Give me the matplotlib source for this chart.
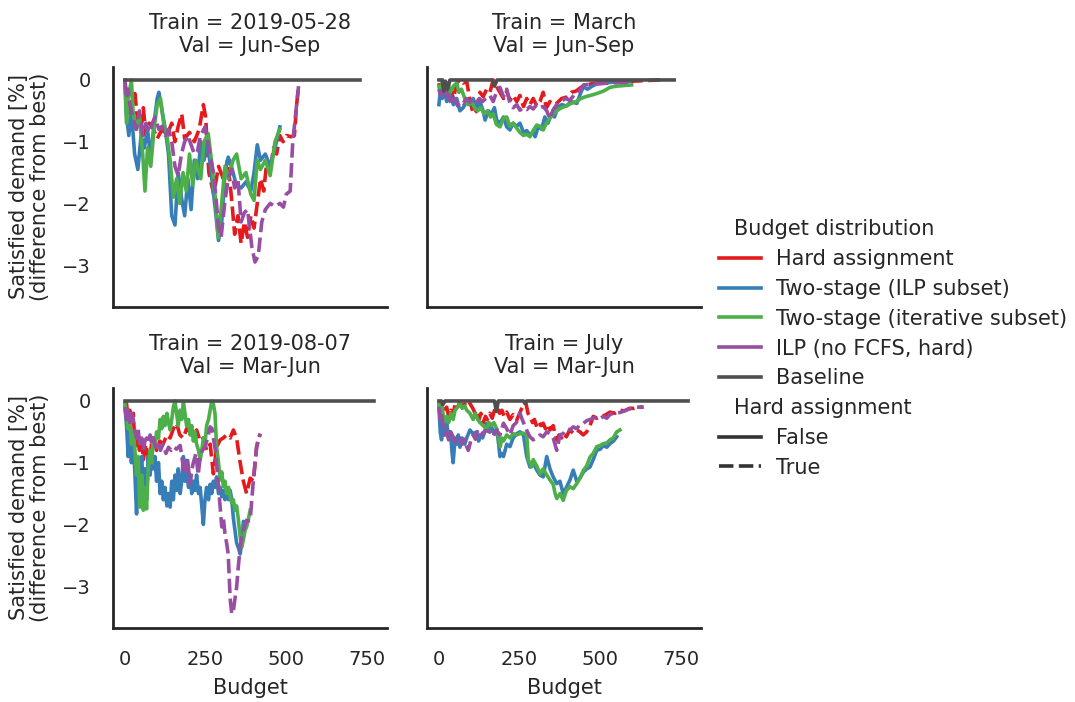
import matplotlib
matplotlib.use("Agg")
import matplotlib.pyplot as plt
from matplotlib.lines import Line2D
from matplotlib.offsetbox import VPacker

# legend / hue levels
methods = ["Hard assignment", "Two-stage (ILP subset)", "Two-stage (iterative subset)",
           "ILP (no FCFS, hard)", "Baseline"]
is_hard = [True, False, False, True, False]
colors = ["#e41a1c", "#377eb8", "#4daf4a", "#984ea3", "#4f4f4f"]

titles = ["Train = 2019-05-28\nVal = Jun-Sep", "Train = March\nVal = Jun-Sep",
          "Train = 2019-08-07\nVal = Mar-Jun", "Train = July\nVal = Mar-Jun"]

# ---- Train = 2019-05-28 / Val = Jun-Sep ----
tl_hard_b = [0, 5, 12, 20, 31, 40, 50, 57, 65, 75, 85, 100, 115, 130, 145, 155, 165, 176, 185, 200,
             215, 230, 243, 250, 260, 275, 290, 305, 318, 330, 340, 350, 360, 370, 380, 390, 400, 410,
             420, 430, 440, 450, 460, 470, 480, 490, 500, 515, 525, 532, 538]
tl_hard_v = [0, -0.4, -0.6, -0.35, -0.22, -0.7, -0.8, -0.45, -0.9, -0.7, -0.75, -0.95, -0.8, -0.9,
             -0.7, -1.0, -0.75, -0.55, -0.95, -0.85, -1.0, -0.8, -0.4, -0.6, -1.5, -1.85, -1.4, -1.6,
             -1.3, -1.9, -2.5, -2.2, -2.65, -2.3, -2.55, -2.2, -2.4, -2.0, -1.6, -1.8, -1.3, -1.5,
             -1.1, -1.2, -0.9, -1.0, -0.9, -0.92, -0.9, -0.4, -0.1]
tl_ilps_b = [0, 5, 12, 20, 30, 40, 50, 60, 70, 80, 90, 100, 105, 115, 125, 135, 145, 155, 165, 175,
             185, 195, 205, 215, 225, 235, 245, 255, 265, 280, 290, 300, 310, 320, 330, 345, 360,
             375, 390, 400, 410, 420, 435, 450, 465, 480]
tl_ilps_v = [0, -0.6, -0.9, -0.5, -1.2, -1.45, -0.9, -1.1, -0.8, -1.3, -0.7, -0.3, -0.2, -0.5, -0.8,
             -1.2, -2.2, -2.35, -1.5, -1.9, -2.2, -1.6, -2.1, -1.3, -1.6, -1.0, -1.3, -1.0, -1.4,
             -2.1, -2.6, -2.3, -1.5, -1.25, -1.4, -1.7, -1.75, -1.65, -1.8, -1.5, -1.05, -1.3, -1.2,
             -1.4, -1.1, -0.76]
tl_iter_b = [0, 5, 10, 20, 25, 35, 45, 55, 62, 70, 80, 90, 100, 110, 120, 130, 140, 150, 160, 170,
             180, 190, 200, 210, 220, 235, 245, 258, 268, 280, 289, 298, 310, 320, 335, 346, 360,
             375, 390, 400, 410, 420, 435, 450, 465, 480]
tl_iter_v = [-0.1, -0.7, -0.3, 0.0, -0.5, -0.8, -0.6, -1.2, -1.8, -1.1, -1.4, -0.8, -0.4, -0.3,
             -0.7, -0.9, -1.3, -1.9, -1.6, -2.0, -1.5, -1.8, -1.2, -1.7, -1.3, -1.6, -1.0, -0.87,
             -1.3, -1.9, -2.55, -2.1, -1.4, -1.6, -1.3, -1.2, -1.6, -1.5, -1.85, -1.95, -1.3, -1.45,
             -1.3, -1.55, -1.0, -0.8]
tl_ilp_b = [0, 5, 10, 15, 25, 35, 45, 55, 65, 75, 85, 93, 105, 115, 125, 135, 145, 155, 165, 175,
            185, 195, 205, 215, 225, 233, 248, 260, 274, 282, 290, 298, 310, 320, 330, 340, 350,
            360, 370, 380, 393, 403, 413, 424, 435, 450, 465, 480, 491, 500, 512, 520, 530, 538]
tl_ilp_v = [0.0, -0.3, -0.15, -0.4, -0.6, -0.8, -0.5, -0.9, -0.7, -0.85, -0.7, -0.6, -0.8, -0.75,
            -0.9, -0.8, -1.0, -1.4, -1.55, -1.2, -1.0, -0.9, -1.05, -1.2, -1.15, -0.92, -0.76, -1.1,
            -1.5, -1.9, -2.4, -2.55, -1.95, -1.6, -1.45, -1.75, -1.6, -2.3, -2.15, -2.1, -2.7,
            -2.95, -2.85, -2.3, -2.1, -2.0, -2.05, -2.0, -2.06, -1.85, -1.8, -1.0, -0.5, -0.1]
tl_base_b = [0, 729]
tl_base_v = [0, 0]

# ---- Train = March / Val = Jun-Sep ----
tr_hard_b = [0, 8, 15, 24, 35, 45, 55, 65, 75, 86, 95, 106, 117, 127, 137, 148, 158, 168, 178, 189,
             200, 210, 220, 230, 241, 251, 262, 272, 282, 292, 303, 313, 323, 333, 344, 354, 365,
             380, 395, 410, 425, 440, 455, 475, 500, 530, 560, 600, 640, 685]
tr_hard_v = [-0.05, -0.3, -0.1, -0.25, -0.15, -0.3, -0.05, 0.0, -0.05, -0.02, -0.3, -0.55, -0.5,
             -0.2, -0.27, -0.15, -0.2, 0.0, -0.1, -0.2, -0.3, -0.18, -0.33, -0.25, -0.35, -0.25,
             -0.43, -0.3, -0.4, -0.3, -0.42, -0.35, -0.2, -0.45, -0.35, -0.4, -0.38, -0.3, -0.28,
             -0.2, -0.18, -0.12, -0.08, -0.06, -0.04, -0.03, -0.02, -0.02, -0.01, 0.0]
tr_ilps_b = [0, 5, 10, 18, 24, 35, 45, 55, 65, 75, 86, 96, 106, 117, 127, 137, 143, 153, 163, 172,
             179, 189, 200, 210, 220, 230, 241, 251, 262, 272, 282, 292, 298, 308, 318, 328, 338,
             348, 358, 368, 380, 395, 410, 427, 440, 448, 460, 475, 490, 510, 530, 560, 592]
tr_ilps_v = [-0.4, -0.15, -0.3, -0.2, -0.35, -0.25, -0.4, -0.3, -0.5, -0.45, -0.35, -0.4, -0.3,
             -0.45, -0.35, -0.5, -0.65, -0.5, -0.55, -0.45, -0.65, -0.7, -0.6, -0.76, -0.81, -0.7,
             -0.75, -0.7, -0.85, -0.82, -0.89, -0.85, -0.92, -0.75, -0.8, -0.6, -0.7, -0.55, -0.6,
             -0.45, -0.4, -0.42, -0.35, -0.38, -0.2, -0.11, -0.15, -0.1, -0.06, -0.05, -0.04,
             -0.03, -0.02]
tr_iter_b = [0, 5, 12, 20, 28, 35, 45, 55, 62, 70, 80, 90, 100, 110, 120, 130, 140, 150, 160, 168,
             178, 189, 200, 210, 220, 230, 241, 251, 262, 272, 282, 292, 303, 313, 323, 333, 344,
             354, 365, 380, 395, 410, 425, 440, 455, 470, 489, 510, 530, 550, 575, 597]
tr_iter_v = [-0.1, -0.25, 0.0, -0.15, -0.05, -0.2, -0.1, -0.05, -0.2, -0.15, -0.3, -0.4, -0.35,
             -0.45, -0.5, -0.45, -0.55, -0.5, -0.6, -0.55, -0.72, -0.76, -0.62, -0.6, -0.75, -0.7,
             -0.78, -0.85, -0.9, -0.88, -0.92, -0.82, -0.73, -0.75, -0.81, -0.7, -0.62, -0.55,
             -0.5, -0.45, -0.42, -0.38, -0.35, -0.3, -0.27, -0.25, -0.22, -0.18, -0.12, -0.1,
             -0.09, -0.08]
tr_ilp_b = [0, 5, 12, 20, 28, 38, 48, 58, 65, 75, 85, 95, 105, 115, 125, 135, 145, 158, 168, 178,
            189, 200, 210, 220, 230, 241, 251, 261, 272, 282, 292, 303, 313, 323, 334, 344, 354,
            365, 378, 392, 405, 418, 430, 440, 448, 470, 500, 530, 560, 580, 602]
tr_ilp_v = [-0.15, -0.25, -0.18, -0.3, -0.22, -0.4, -0.3, -0.42, -0.35, -0.38, -0.3, -0.36, -0.33,
            -0.38, -0.3, -0.35, -0.3, -0.25, -0.35, -0.2, -0.12, -0.27, -0.15, -0.38, -0.45, -0.4,
            -0.49, -0.45, -0.48, -0.43, -0.47, -0.4, -0.45, -0.43, -0.5, -0.63, -0.48, -0.4,
            -0.35, -0.3, -0.33, -0.25, -0.22, -0.15, -0.08, -0.07, -0.06, -0.05, -0.04, -0.04,
            -0.02]
tr_base_b = [0, 10, 15, 20, 27, 34, 165, 172, 180, 729]
tr_base_v = [0, 0, -0.18, -0.02, -0.15, 0, 0, -0.1, 0, 0]

# ---- Train = 2019-08-07 / Val = Mar-Jun ----
bl_hard_b = [0, 5, 10, 15, 20, 26, 31, 38, 45, 52, 57, 65, 75, 85, 98, 108, 118, 130, 140, 150,
             160, 170, 181, 191, 202, 212, 222, 233, 243, 253, 264, 274, 284, 295, 305, 315, 326,
             336, 346, 357, 367, 377, 388, 398, 408, 419]
bl_hard_v = [0, -0.05, -0.3, -0.15, -0.35, -0.2, -0.74, -0.55, -0.8, -0.65, -0.95, -0.7, -1.0,
             -0.6, -0.8, -0.65, -0.7, -0.55, -0.6, -0.45, -0.36, -0.55, -0.6, -0.45, -0.5, -0.6,
             -0.47, -0.65, -0.6, -0.8, -0.7, -1.18, -0.75, -0.63, -0.6, -0.55, -0.6, -0.47, -0.6,
             -1.0, -1.3, -1.5, -1.25, -1.3, -0.75, -0.53]
bl_ilps_b = [0, 5, 10, 15, 20, 26, 31, 36, 41, 46, 52, 57, 62, 67, 72, 78, 83, 88, 93, 98, 104,
             109, 114, 119, 124, 130, 135, 140, 145, 150, 155, 160, 165, 171, 176, 181, 186, 191,
             197, 202, 207, 212, 217, 222, 228, 233, 238, 243, 248, 253, 259, 264, 269, 274, 279,
             284, 290, 295, 300, 305, 310, 315, 321, 326, 331, 336, 341, 346, 351, 357, 362, 367,
             372, 377]
bl_ilps_v = [-0.1, -0.4, -0.9, -0.5, -1.0, -0.6, -1.2, -1.83, -1.0, -1.3, -0.9, -1.5, -1.1, -1.6,
             -0.9, -1.2, -0.85, -1.1, -0.9, -1.3, -1.0, -1.5, -1.3, -1.6, -1.4, -1.7, -1.5, -1.72,
             -1.3, -1.6, -1.2, -1.45, -1.1, -1.5, -1.3, -0.9, -1.3, -1.1, -1.4, -1.2, -1.5, -1.3,
             -1.45, -1.2, -1.5, -1.4, -1.7, -2.0, -1.6, -1.4, -1.6, -1.35, -1.5, -1.3, -1.4, -1.23,
             -1.5, -1.4, -1.55, -1.45, -1.6, -1.5, -1.6, -1.45, -1.6, -1.9, -2.1, -2.3, -2.37,
             -2.48, -2.3, -1.95, -2.0, -1.94]
bl_iter_b = [0, 5, 10, 15, 20, 26, 31, 36, 41, 46, 52, 57, 62, 67, 72, 78, 83, 88, 93, 98, 104,
             109, 114, 119, 124, 130, 135, 140, 145, 150, 155, 160, 165, 171, 176, 181, 186, 191,
             197, 202, 207, 212, 217, 222, 228, 233, 238, 243, 248, 253, 259, 264, 269, 274, 279,
             284, 290, 295, 300, 305, 310, 315, 321, 326, 331, 336, 341, 346, 351, 357, 362, 367,
             372, 377, 383, 388]
bl_iter_v = [-0.05, -0.2, -0.45, -0.3, -0.7, -0.5, -0.8, -1.2, -0.9, -1.72, -1.2, -1.77, -1.4,
             -1.75, -1.1, -0.8, -1.0, -0.6, -0.75, -0.5, -0.6, -0.3, -0.45, -0.25, -0.4, -0.2,
             -0.35, -0.47, -0.3, -0.1, 0.0, -0.2, -0.4, -0.15, -0.3, -0.01, -0.2, -0.4, -0.3, -0.55,
             -0.4, -0.65, -0.5, -0.7, -0.8, -0.96, -0.8, -0.6, -0.7, -0.4, -0.3, -0.15, 0.0, -0.05,
             -0.2, -0.74, -1.0, -1.28, -1.15, -1.39, -1.3, -1.5, -1.4, -1.56, -1.65, -1.6, -1.77,
             -1.7, -1.9, -2.2, -2.37, -2.25, -2.1, -2.04, -1.9, -1.77]
bl_ilp_b = [0, 5, 10, 15, 20, 26, 31, 36, 41, 46, 52, 57, 62, 67, 72, 78, 83, 88, 95, 102, 110,
            118, 127, 135, 143, 150, 160, 171, 181, 187, 193, 202, 208, 212, 220, 227, 233, 240,
            248, 256, 264, 270, 274, 280, 287, 295, 300, 305, 310, 315, 320, 326, 331, 336, 341,
            346, 351, 357, 362, 367, 377, 388, 393, 398, 403, 408, 414, 419]
bl_ilp_v = [-0.1, -0.3, -0.15, -0.35, -0.2, -0.3, -0.5, -0.6, -0.45, -0.75, -0.6, -0.8, -0.65,
            -0.6, -0.68, -0.55, -0.69, -0.6, -0.75, -0.65, -0.8, -0.7, -0.85, -0.75, -0.8, -0.74,
            -0.78, -0.72, -1.07, -1.2, -0.9, -1.34, -1.1, -1.0, -0.85, -1.2, -0.9, -0.8, -0.75,
            -0.6, -0.42, -0.45, -0.6, -0.8, -1.2, -1.72, -2.04, -1.9, -2.15, -2.3, -2.48, -3.2,
            -3.45, -3.4, -3.2, -3.02, -2.7, -2.37, -2.2, -2.1, -1.94, -1.94, -1.6, -1.28, -1.0,
            -0.74, -0.6, -0.53]
bl_base_b = [0, 772]
bl_base_v = [0, 0]

# ---- Train = July / Val = Mar-Jun ----
br_hard_b = [0, 5, 10, 16, 24, 30, 37, 44, 50, 58, 65, 72, 80, 88, 96, 105, 112, 117, 124, 130,
             137, 144, 150, 158, 165, 172, 180, 188, 195, 202, 210, 220, 230, 241, 250, 258, 264,
             270, 276, 282, 290, 296, 303, 310, 316, 323, 330, 337, 344, 354, 360, 365, 372, 380,
             385, 395, 405, 416, 427, 437, 447, 458, 468, 478, 489, 500, 515, 530, 545, 560, 575,
             590, 605, 620, 634]
br_hard_v = [0.0, -0.1, -0.02, -0.15, -0.1, -0.25, -0.15, -0.22, -0.05, -0.1, -0.02, -0.08, -0.05,
             -0.1, -0.04, -0.12, -0.2, -0.15, -0.3, -0.2, -0.36, -0.25, -0.3, -0.2, -0.28, -0.15,
             -0.1, -0.2, -0.15, -0.25, -0.18, -0.3, -0.22, -0.31, -0.2, -0.1, -0.02, -0.05, -0.2,
             -0.25, -0.35, -0.3, -0.42, -0.35, -0.4, -0.36, -0.45, -0.38, -0.47, -0.4, -0.55,
             -0.63, -0.55, -0.6, -0.53, -0.58, -0.47, -0.52, -0.47, -0.5, -0.55, -0.5, -0.4, -0.25,
             -0.28, -0.25, -0.23, -0.18, -0.2, -0.15, -0.16, -0.12, -0.12, -0.1, -0.1]
br_ilps_b = [0, 4, 8, 13, 18, 24, 30, 36, 40, 44, 50, 55, 60, 65, 72, 80, 86, 96, 106, 117, 123,
             128, 135, 142, 148, 155, 162, 170, 179, 185, 189, 195, 200, 210, 220, 230, 241, 251,
             262, 272, 282, 292, 303, 313, 323, 334, 344, 354, 365, 375, 385, 395, 406, 416, 427,
             437, 448, 458, 468, 478, 489, 500, 510, 520, 530, 541, 551]
br_ilps_v = [-0.1, -0.5, -0.63, -0.4, -0.55, -0.35, -0.6, -0.5, -0.8, -1.0, -0.6, -0.7, -0.55,
             -0.75, -0.6, -0.7, -0.6, -0.47, -0.53, -0.5, -0.65, -0.55, -0.6, -0.5, -0.36, -0.45,
             -0.4, -0.53, -0.45, -0.7, -0.9, -0.85, -0.9, -0.7, -0.74, -0.6, -0.53, -0.5, -0.55,
             -0.9, -1.07, -1.0, -1.12, -1.2, -1.23, -0.9, -1.1, -1.23, -1.34, -1.3, -1.5, -1.4,
             -1.28, -1.12, -1.3, -1.25, -1.15, -1.1, -1.07, -0.95, -0.8, -0.78, -0.72, -0.75,
             -0.69, -0.65, -0.58]
br_iter_b = [0, 5, 10, 16, 24, 30, 37, 44, 50, 58, 65, 72, 80, 86, 96, 106, 112, 120, 127, 137,
             148, 155, 162, 170, 179, 185, 190, 195, 200, 210, 220, 230, 241, 251, 262, 272, 277,
             282, 287, 292, 303, 313, 323, 334, 344, 354, 360, 365, 375, 385, 395, 406, 416, 427,
             437, 448, 458, 468, 478, 489, 500, 510, 520, 530, 540, 551, 561]
br_iter_v = [-0.05, -0.3, -0.1, -0.35, -0.25, -0.35, -0.2, -0.3, -0.15, -0.1, -0.04, -0.12, -0.08,
             -0.15, -0.2, -0.3, -0.2, -0.3, -0.35, -0.4, -0.45, -0.35, -0.4, -0.35, -0.45, -0.6,
             -0.74, -0.6, -0.65, -0.55, -0.6, -0.53, -0.55, -0.53, -0.52, -0.55, -0.96, -1.0,
             -1.07, -0.95, -1.05, -1.18, -1.1, -1.2, -1.28, -1.35, -1.5, -1.58, -1.5, -1.61, -1.45,
             -1.39, -1.42, -1.34, -1.25, -1.12, -1.05, -0.91, -0.85, -0.74, -0.72, -0.69, -0.68,
             -0.63, -0.6, -0.5, -0.47]
br_ilp_b = [0, 4, 8, 13, 18, 24, 30, 36, 44, 50, 58, 65, 72, 80, 86, 91, 96, 101, 106, 113, 120,
            127, 135, 145, 158, 168, 178, 189, 200, 210, 220, 230, 240, 251, 258, 266, 274, 282,
            292, 303, 313, 323, 334, 344, 354, 365, 375, 385, 396, 406, 416, 427, 437, 448, 458,
            468, 478, 489, 500, 510, 520, 530, 541, 551, 565, 580, 595, 613, 634]
br_ilp_v = [-0.1, -0.3, -0.2, -0.42, -0.55, -0.5, -0.63, -0.5, -0.58, -0.65, -0.69, -0.6, -0.7,
            -0.62, -0.74, -0.8, -0.7, -0.6, -0.55, -0.62, -0.5, -0.58, -0.52, -0.48, -0.5, -0.58,
            -0.47, -0.55, -0.36, -0.45, -0.55, -0.4, -0.35, -0.2, -0.3, -0.4, -0.5, -0.58, -0.63,
            -0.6, -0.55, -0.58, -0.5, -0.53, -0.6, -0.8, -0.55, -0.53, -0.45, -0.47, -0.42, -0.45,
            -0.38, -0.36, -0.32, -0.3, -0.28, -0.25, -0.28, -0.25, -0.28, -0.22, -0.2, -0.2,
            -0.18, -0.15, -0.12, -0.1, -0.1]
br_base_b = [0, 8, 12, 19, 172, 178, 184, 262, 267, 272, 772]
br_base_v = [0, 0, -0.06, 0, 0, -0.17, 0, 0, -0.04, 0, 0]

panels = [
    [(tl_hard_b, tl_hard_v), (tl_ilps_b, tl_ilps_v), (tl_iter_b, tl_iter_v), (tl_ilp_b, tl_ilp_v), (tl_base_b, tl_base_v)],
    [(tr_hard_b, tr_hard_v), (tr_ilps_b, tr_ilps_v), (tr_iter_b, tr_iter_v), (tr_ilp_b, tr_ilp_v), (tr_base_b, tr_base_v)],
    [(bl_hard_b, bl_hard_v), (bl_ilps_b, bl_ilps_v), (bl_iter_b, bl_iter_v), (bl_ilp_b, bl_ilp_v), (bl_base_b, bl_base_v)],
    [(br_hard_b, br_hard_v), (br_ilps_b, br_ilps_v), (br_iter_b, br_iter_v), (br_ilp_b, br_ilp_v), (br_base_b, br_base_v)],
]

TXT = "#262626"
plt.rcParams["font.family"] = ["DejaVu Sans"]
plt.rcParams["text.color"] = TXT
plt.rcParams["axes.labelcolor"] = TXT

W, H = 1075, 702
fig = plt.figure(figsize=(W / 100, H / 100), dpi=100)

# axes corners in pixels (left, top)
corners = [(113, 67), (427, 67), (113, 388), (427, 388)]
LW = 2.6
FS = 15

for i, (left, top) in enumerate(corners):
    ax = fig.add_axes([left / W, 1 - (top + 239.5) / H, 274 / W, 239.5 / H])
    for k, (b, v) in enumerate(panels[i]):
        style = dict(dashes=(4, 1.5)) if is_hard[k] else dict(linestyle="-")
        ax.plot(b, v, color=colors[k], lw=LW, **style)

    ax.set_xlim(-37, 812)
    ax.set_ylim(-3.67, 0.21)
    ax.set_xticks([0, 250, 500, 750])
    ax.set_yticks([0, -1, -2, -3])
    for s in ["top", "right"]:
        ax.spines[s].set_visible(False)
    for s in ["left", "bottom"]:
        ax.spines[s].set_linewidth(2.0)
        ax.spines[s].set_color(TXT)
    ax.tick_params(length=0, pad=16, labelsize=14, colors=TXT)
    ax.set_title(titles[i], fontsize=FS, pad=10.5, color=TXT, linespacing=1.2)

    if i % 2 == 0:
        ax.set_ylabel("Satisfied demand [%]\n(difference from best)", fontsize=FS,
                      labelpad=9, linespacing=1.05)
    else:
        ax.tick_params(labelleft=False)
    if i >= 2:
        ax.set_xlabel("Budget", fontsize=FS, labelpad=7)
    else:
        ax.tick_params(labelbottom=False)

# legend with seaborn-like subtitles
handles, labels = [], []
handles.append(Line2D([], [], visible=False))
labels.append("Budget distribution")
for m, c in zip(methods, colors):
    handles.append(Line2D([], [], color=c, lw=LW))
    labels.append(m)
handles.append(Line2D([], [], visible=False))
labels.append("Hard assignment")
handles.append(Line2D([], [], color="#333333", lw=LW))
labels.append("False")
handles.append(Line2D([], [], color="#333333", lw=LW, dashes=(4, 1.5)))
labels.append("True")

leg = fig.legend(handles, labels, loc="center left", bbox_to_anchor=(711 / W, 1 - 348.5 / H),
                 frameon=False, fontsize=FS, handlelength=2.0, handletextpad=0.7,
                 labelspacing=0.47, borderaxespad=0)
for hpack in leg.findobj(VPacker)[0].get_children():
    draw_area, text_area = hpack.get_children()
    if not all(a.get_visible() for a in draw_area.get_children()):
        draw_area.set_width(0)

fig.savefig("out.png", dpi=100)
